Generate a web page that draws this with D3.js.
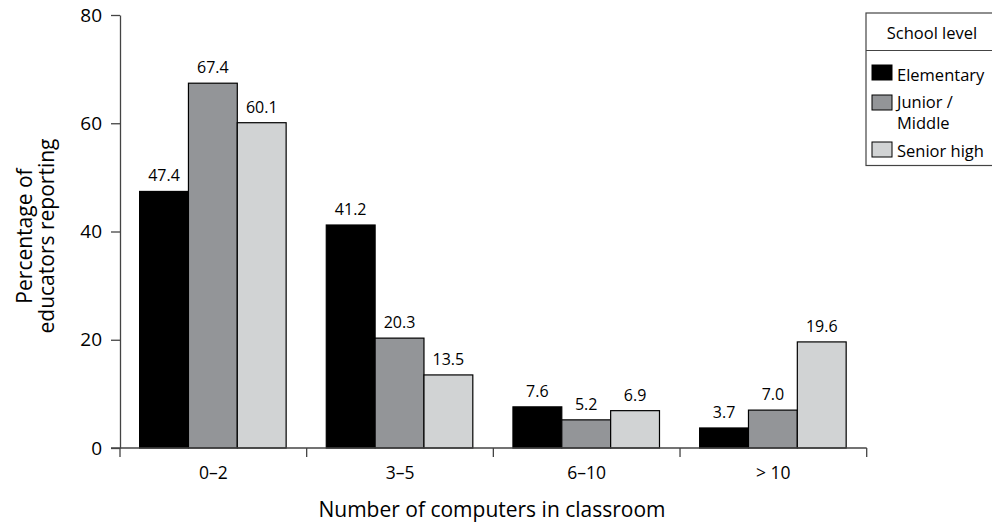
<!DOCTYPE html>
<html><head><meta charset="utf-8">
<script src="https://cdn.jsdelivr.net/npm/d3@7"></script>
<style>
body{margin:0;background:#fff;}
svg{display:block;font-family:"Open Sans","Noto Sans",sans-serif;}
</style></head>
<body><svg id="c" width="992" height="527"></svg>
<script>
const categories = ["0\u20132", "3\u20135", "6\u201310", "> 10"];
const seriesNames = ["Elementary", "Junior / Middle", "Senior high"];
const elementary = [47.4, 41.2, 7.6, 3.7];
const juniorMiddle = [67.4, 20.3, 5.2, 7.0];
const seniorHigh = [60.1, 13.5, 6.9, 19.6];
const yTicks = [0, 20, 40, 60, 80];
const colors = ["#000000", "#939598", "#d1d3d4"];

const series = [elementary, juniorMiddle, seniorHigh];
const svg = d3.select("#c");
const axisColor = "#444";

const x0 = d3.scaleBand().domain(categories).range([120, 866.7]).padding(0);
const x1 = d3.scaleBand().domain(d3.range(series.length))
  .range([x0.bandwidth() * 0.105, x0.bandwidth() * 0.89]).padding(0);
const y = d3.scaleLinear().domain([0, 80]).range([448, 15]);

// bars
const g = svg.append("g");
categories.forEach((c, i) => {
  series.forEach((s, j) => {
    g.append("rect")
      .attr("x", x0(c) + x1(j))
      .attr("y", y(s[i]))
      .attr("width", x1.bandwidth())
      .attr("height", y(0) - y(s[i]))
      .attr("fill", colors[j])
      .attr("stroke", "#000")
      .attr("stroke-width", 1.2);
    g.append("text")
      .attr("x", x0(c) + x1(j) + x1.bandwidth() / 2)
      .attr("y", y(s[i]) - 10)
      .attr("text-anchor", "middle")
      .attr("font-size", 16)
      .attr("fill", "#000")
      .text(s[i].toFixed(1));
  });
});

// y axis
const yAxis = d3.axisLeft(y).tickValues(yTicks).tickSize(9).tickPadding(9).tickSizeOuter(0);
const yg = svg.append("g").attr("transform", "translate(120,0)").call(yAxis);
yg.select(".domain").attr("stroke", axisColor).attr("stroke-width", 1.3);
yg.selectAll(".tick line").attr("stroke", axisColor).attr("stroke-width", 1.3);
yg.selectAll(".tick text").attr("font-size", 19).attr("fill", "#000").attr("font-family", "Open Sans, sans-serif");

// x axis
const xBoundaries = [x0.range()[0]].concat(categories.map(c => x0(c) + x0.step()));
const xg = svg.append("g");
xg.append("line").attr("x1", 111).attr("x2", x0.range()[1]).attr("y1", y(0)).attr("y2", y(0))
  .attr("stroke", axisColor).attr("stroke-width", 1.3);
xg.selectAll("line.tk").data(xBoundaries).enter().append("line")
  .attr("x1", d => d).attr("x2", d => d).attr("y1", y(0)).attr("y2", y(0) + 9)
  .attr("stroke", axisColor).attr("stroke-width", 1.3);
xg.selectAll("text").data(categories).enter().append("text")
  .attr("x", d => x0(d) + x0.bandwidth() / 2)
  .attr("y", 479)
  .attr("text-anchor", "middle")
  .attr("font-size", 17.5)
  .text(d => d);

// axis titles
svg.append("text").attr("x", 492).attr("y", 517).attr("text-anchor", "middle")
  .attr("font-size", 21).text("Number of computers in classroom");
const yt = svg.append("text").attr("transform", "translate(0,236) rotate(-90)")
  .attr("text-anchor", "middle").attr("font-size", 21);
yt.append("tspan").attr("x", 0).attr("y", 32).text("Percentage of");
yt.append("tspan").attr("x", 0).attr("y", 54).text("educators reporting");

// legend
const lg = svg.append("g");
lg.append("rect").attr("x", 866).attr("y", 13).attr("width", 140).attr("height", 152.5)
  .attr("fill", "#fff").attr("stroke", "#444").attr("stroke-width", 1.2);
lg.append("text").attr("x", 932).attr("y", 39).attr("text-anchor", "middle").attr("font-size", 16.5).text("School level");
lg.append("line").attr("x1", 866).attr("x2", 992).attr("y1", 50.5).attr("y2", 50.5).attr("stroke", "#444").attr("stroke-width", 1.2);
const legRows = [
  {sy: 65, lines: ["Elementary"], ty: 81},
  {sy: 95, lines: ["Junior /", "Middle"], ty: 107.5},
  {sy: 142, lines: ["Senior high"], ty: 157}
];
legRows.forEach((r, j) => {
  lg.append("rect").attr("x", 872).attr("y", r.sy).attr("width", 20).attr("height", 15)
    .attr("fill", colors[j]).attr("stroke", "#000").attr("stroke-width", 1);
  const t = lg.append("text").attr("x", 897).attr("y", r.ty).attr("font-size", 16.5);
  r.lines.forEach((line, k) => {
    t.append("tspan").attr("x", 897).attr("y", r.ty + k * 21.5).text(line);
  });
});
</script></body></html>
